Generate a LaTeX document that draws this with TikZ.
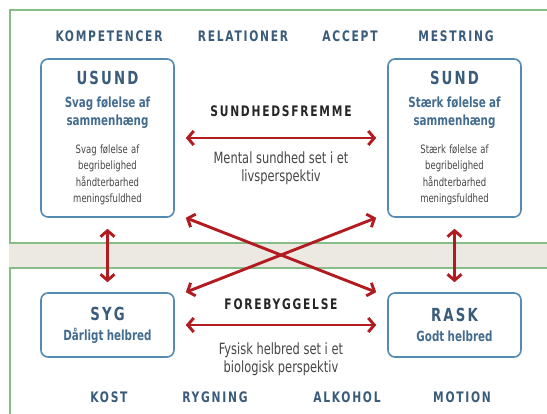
\documentclass[tikz,border=0pt]{standalone}
\usepackage{fontspec}
\setmainfont{DejaVu Sans Condensed}[FakeStretch=0.82]
\usetikzlibrary{arrows.meta, positioning}
\definecolor{framegreen}{RGB}{135, 190, 135}
\definecolor{bandbeige}{RGB}{236, 233, 226}
\definecolor{boxblue}{RGB}{85, 138, 178}
\definecolor{headblue}{RGB}{58, 92, 122}
\definecolor{subblue}{RGB}{68, 108, 142}
\definecolor{arrowred}{RGB}{178, 28, 32}
\definecolor{textgray}{RGB}{70, 70, 70}
\newcommand{\spaced}[1]{{\addfontfeature{LetterSpace=12}#1}}
\newcommand{\boxtitle}[1]{{\fontsize{18}{20}\selectfont\bfseries\color{headblue}\spaced{#1}\par}}
\newcommand{\boxsub}[2]{{\fontsize{14}{18}\selectfont\bfseries\color{subblue}\vspace{#1}#2\par}}
\newcommand{\boxsmall}[1]{{\fontsize{11.5}{16.3}\selectfont\color{textgray}\vspace{12pt}#1\par}}

\begin{document}
\begin{tikzpicture}[x=1pt, y=-1pt,
  statebox/.style={draw=boxblue, line width=1.6pt, rounded corners=7pt, fill=white, minimum width=133pt, inner sep=0pt, text width=130pt, align=center},
  head/.style={font=\fontsize{14.5}{16}\selectfont\bfseries, text=headblue},
  link/.style={draw=arrowred, line width=2.9pt, {Straight Barb[length=6pt, width=14pt]}-{Straight Barb[length=6pt, width=14pt]}},
  mid/.style={font=\fontsize{14.5}{16}\selectfont\bfseries, text=black!85},
  note/.style={font=\fontsize{15.5}{17.5}\selectfont, text=textgray, align=center}]
  \clip (0,0) rectangle (547,414);

  % Panels
  \fill[bandbeige] (9,243) rectangle (560,268);
  \draw[framegreen, line width=2pt, fill=white] (560,10) -- (9.5,10) -- (9.5,243) -- (560,243);
  \draw[framegreen, line width=2pt, fill=white] (560,268) -- (9.5,268) -- (9.5,430) -- (560,430);

  % Top and bottom words
  \node[head] (kompetencer) at (109,36) {\spaced{KOMPETENCER}};
  \node[head] (relationer) at (243,36) {\spaced{RELATIONER}};
  \node[head] (accept) at (350,36) {\spaced{ACCEPT}};
  \node[head] (mestring) at (456,36) {\spaced{MESTRING}};
  \node[head] (kost) at (109,397) {\spaced{KOST}};
  \node[head] (rygning) at (215,397) {\spaced{RYGNING}};
  \node[head] (alkohol) at (347,397) {\spaced{ALKOHOL}};
  \node[head] (motion) at (462,397) {\spaced{MOTION}};

  % States
  \node[statebox, minimum height=158pt] (usund) at (107.5,138) {
    \boxtitle{USUND}
    \boxsub{5pt}{Svag følelse af\\sammenhæng}
    \boxsmall{Svag følelse af\\begribelighed\\håndterbarhed\\meningsfuldhed}
  };
  \node[statebox, minimum height=158pt] (sund) at (454.5,138) {
    \boxtitle{SUND}
    \boxsub{5pt}{Stærk følelse af\\sammenhæng}
    \boxsmall{Stærk følelse af\\begribelighed\\håndterbarhed\\meningsfuldhed}
  };
  \node[statebox, minimum height=64pt] (syg) at (107.5,325) {
    \boxtitle{SYG}
    \boxsub{2pt}{Dårligt helbred}
  };
  \node[statebox, minimum height=64pt] (rask) at (454.5,325) {
    \boxtitle{RASK}
    \boxsub{2pt}{Godt helbred}
  };

  % Connections
  \draw[link, shorten <=11pt, shorten >=11pt] (usund.east) --
    node[mid, midway, yshift=27pt] (fremme) {\spaced{SUNDHEDSFREMME}}
    node[note, midway, yshift=-30pt] (mental) {Mental sundhed set i et\\livsperspektiv} (sund.west);
  \draw[link, shorten <=11pt, shorten >=11pt] (syg.east) --
    node[mid, midway, yshift=21pt] (forebyg) {\spaced{FOREBYGGELSE}}
    node[note, midway, yshift=-34pt] (fysisk) {Fysisk helbred set i et\\biologisk perspektiv} (rask.west);
  \draw[link] ([xshift=11pt]usund.south east) -- ([xshift=-11pt]rask.north west);
  \draw[link] ([xshift=11pt]syg.north east) -- ([xshift=-11pt]sund.south west);
  \draw[link, shorten <=11pt, shorten >=10pt] (usund.south) -- (syg.north);
  \draw[link, shorten <=11pt, shorten >=10pt] (sund.south) -- (rask.north);
\end{tikzpicture}
\end{document}
